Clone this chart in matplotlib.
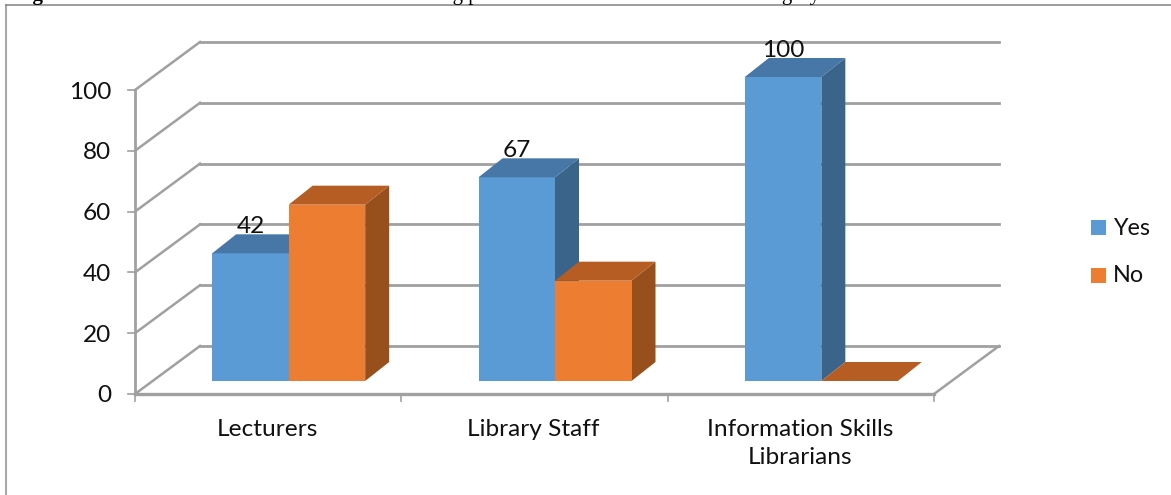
import matplotlib
matplotlib.use("Agg")
import matplotlib.pyplot as plt
from matplotlib.patches import Polygon, Rectangle

W, H = 1171, 495

categories = ["Lecturers", "Library Staff", "Information Skills\nLibrarians"]
yes_values = [42, 67, 100]
no_values = [58, 33, 0]
y_ticks = [0, 20, 40, 60, 80, 100]
# caption above the chart is cut off by the crop, only the descenders show
caption_bits = [(15, "Figure", "bold"), (392, "teaching p", "normal"), (748, "category", "normal")]

BLUE, BLUE_TOP, BLUE_SIDE = "#5b9bd5", "#4677a6", "#3a648a"
ORANGE, ORANGE_TOP, ORANGE_SIDE = "#ed7d31", "#b55d22", "#97501c"
GRID = "#a0a0a0"
TEXT = "#111111"
FS = 17.6

plt.rcParams["font.family"] = ["Lato", "DejaVu Sans"]

fig = plt.figure(figsize=(W / 100, H / 100), dpi=100)
# main axes = the front wall of the 3d box
x0, x1, y0, y1 = 135, 934, 394, 90
ax = fig.add_axes([x0 / W, 1 - y0 / H, (x1 - x0) / W, (y0 - y1) / H])
ax.set_xlim(0, 3)
ax.set_ylim(0, 100)
ax.patch.set_visible(False)
for s in ax.spines.values():
    s.set_visible(False)

px_x = 3 / (x1 - x0)  # data units per pixel
px_y = 100 / (y0 - y1)

# box depth and bar depth, in pixels
box_dx, box_dy = 65, 48
bar_dx, bar_dy = 24, 19
floor_dx, floor_dy = 20.5, 13
bar_w = 76.5 * px_x


def line(xs, ys, lw=2.0):
    ax.plot(xs, ys, color=GRID, lw=lw, clip_on=False, solid_capstyle="projecting", zorder=1)


# back wall gridlines, left wall diagonals
for v in y_ticks:
    xb = box_dx * px_x
    yb = v + box_dy * px_y
    line([xb, 3 + xb], [yb, yb])
    line([0, xb], [v, yb], lw=1.8)
line([0, 0], [0, 100], lw=2.0)
line([0, 3], [0, 0], lw=2.4)
line([3, 3 + box_dx * px_x], [0, box_dy * px_y], lw=1.8)

# ticks
for v in y_ticks:
    ax.plot([-7 * px_x, 0], [v, v], color=GRID, lw=1.2, clip_on=False)
for i in range(4):
    ax.plot([i, i], [0, -7 * px_y], color=GRID, lw=1.2, clip_on=False)
ax.set_xticks([])
ax.set_yticks([])
for v in y_ticks:
    ax.text(-24 * px_x, v - 2 * px_y, str(v), ha="right", va="center", fontsize=FS, color=TEXT)
for i, c in enumerate(categories):
    ax.text(i + 0.5 - 1 * px_x, -25 * px_y, c, ha="center", va="top", fontsize=FS,
            color=TEXT, linespacing=1.4)


def bar3d(left, v, front, top, side, z):
    l = left + floor_dx * px_x
    r = l + bar_w
    b = floor_dy * px_y
    t = b + v
    dx, dy = bar_dx * px_x, bar_dy * px_y
    if v > 0:
        ax.add_patch(Polygon([(r, b), (r + dx, b + dy), (r + dx, t + dy), (r, t)],
                             fc=side, ec="none", zorder=z, clip_on=False))
        ax.add_patch(Rectangle((l, b), bar_w, v, fc=front, ec="none", zorder=z, clip_on=False))
    ax.add_patch(Polygon([(l, t), (l + dx, t + dy), (r + dx, t + dy), (r, t)],
                         fc=top, ec="none", zorder=z, clip_on=False))


for i in range(len(categories)):
    left = i + 0.5 - bar_w
    bar3d(left, yes_values[i], BLUE, BLUE_TOP, BLUE_SIDE, 3)
    bar3d(left + bar_w, no_values[i], ORANGE, ORANGE_TOP, ORANGE_SIDE, 4)
    ax.annotate(str(yes_values[i]), (left + floor_dx * px_x + bar_w / 2, yes_values[i] + floor_dy * px_y),
                xytext=(0, 19), textcoords="offset points", ha="center", va="center",
                fontsize=FS, color=TEXT, zorder=6, annotation_clip=False)

# legend
for y, name, col in [(228, "Yes", BLUE), (276, "No", ORANGE)]:
    fig.patches.append(Rectangle((1091 / W, 1 - (y + 7) / H), 15 / W, 15 / H, transform=fig.transFigure,
                                 fc=col, ec="none"))
    fig.text(1113 / W, 1 - y / H, name, ha="left", va="center", fontsize=FS - 0.8, color=TEXT)

# chart frame
fig.add_artist(plt.Line2D([6 / W, 6 / W], [0, 1 - 5 / H], color="#a8a8a8", lw=1.5))
fig.add_artist(plt.Line2D([6 / W, 1], [1 - 5 / H, 1 - 5 / H], color="#8c8c8c", lw=1.2))

for x, word, weight in caption_bits:
    fig.text(x / W, 1.0, word, ha="left", va="baseline", fontsize=15, fontweight=weight,
             family=["Liberation Serif"], color="#000000")

fig.savefig("out.png", dpi=100)
